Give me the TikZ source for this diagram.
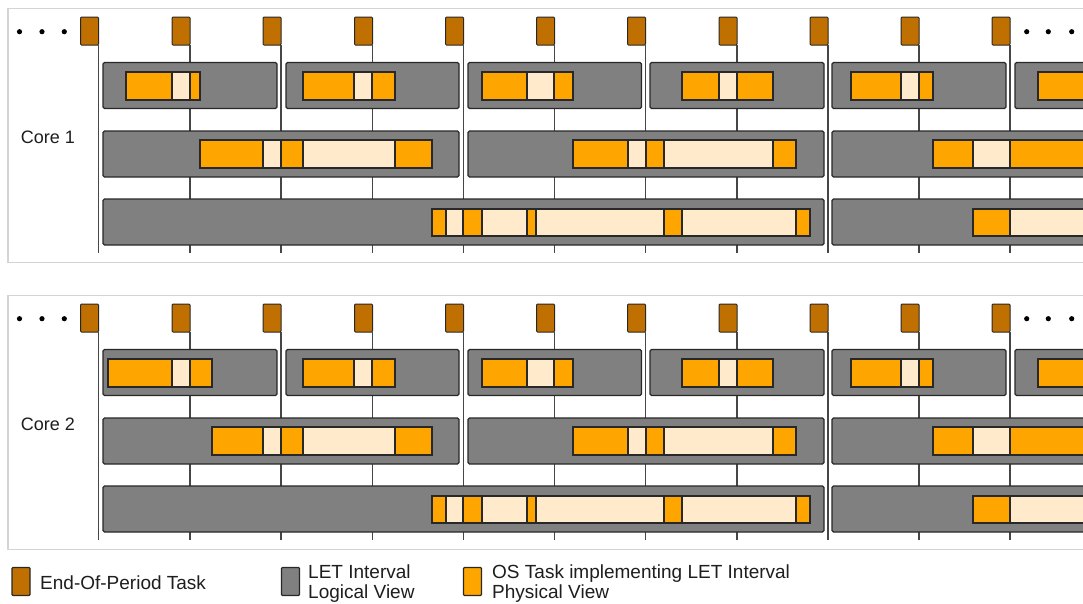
\documentclass[tikz,border=0pt]{standalone}
\usepackage{fontspec}
\setmainfont{Liberation Sans}
\definecolor{eopc}{RGB}{192,112,0}
\definecolor{letgray}{RGB}{128,128,128}
\definecolor{osorange}{RGB}{255,165,0}
\definecolor{oslight}{RGB}{255,234,204}
\definecolor{darkline}{RGB}{40,40,40}
\definecolor{tickc}{RGB}{70,70,70}
\definecolor{panelc}{RGB}{212,212,212}
\definecolor{txt}{RGB}{30,30,30}
\tikzset{
  eop/.style={draw=darkline, fill=eopc, line width=1pt, rounded corners=1pt, minimum width=18pt, minimum height=28pt, inner sep=0pt, outer sep=0pt},
  tickline/.style={draw=tickc, line width=1.4pt},
  letbox/.style={draw=darkline, fill=letgray, line width=1.3pt, rounded corners=1.5pt},
  seg/.style={draw=darkline, line width=1.1pt},
  panelframe/.style={draw=panelc, line width=1.6pt},
  corelabel/.style={text=txt, font=\fontsize{18}{21}\selectfont, inner sep=0pt},
  legsq/.style={draw=darkline, line width=1.2pt, rounded corners=1pt, minimum width=18pt, minimum height=28pt, inner sep=0pt},
  legtext/.style={text=txt, font=\fontsize{19}{21}\selectfont, inner sep=0pt},
  dot/.style={fill=black}
}
\newcommand{\Panel}[4]{%
  \draw[panelframe] (8,8.5) rectangle (1100,262.5);
  \foreach \x [count=\i] in {98.5,190,281,372.5,463.5,554.5,645.5,737,828,919,1010}{
    \node[eop, anchor=north east] (#1m\i) at (\x,17) {};
    \coordinate (#1b\i) at (\x,253);
    \draw[tickline] (#1m\i.south east) -- (#1b\i);
  }
  \foreach \x in {19.5,42,64.3,1026.7,1048.3,1071.7}{
    \fill[dot] (\x,31.7) circle (2.6pt);
  }
  % LET intervals, row 1
  \foreach \a/\b in {103/277,286/459,468/641.5,650/824,832/1006,1015/1100}{
    \draw[letbox] (\a,62.5) rectangle (\b,108.5);
  }
  % LET intervals, row 2
  \foreach \a/\b in {103/459,468/824,832/1100}{
    \draw[letbox] (\a,131) rectangle (\b,177);
  }
  % LET intervals, row 3
  \foreach \a/\b in {103/824,832/1100}{
    \draw[letbox] (\a,199) rectangle (\b,245);
  }
  % OS tasks, row 1
  \foreach \a/\b/\f in {#3,303/354/osorange,354/372/oslight,372/395/osorange,
      482/527/osorange,527/554/oslight,554/573/osorange,
      682/719/osorange,719/737/oslight,737/773/osorange,
      851/901/osorange,901/919/oslight,919/933/osorange,
      1038/1100/osorange}{
    \draw[seg, fill=\f] (\a,72) rectangle (\b,100);
  }
  % OS tasks, row 2
  \foreach \a/\b/\f in {#4,263/281/oslight,281/303/osorange,303/395/oslight,395/432/osorange,
      573/628/osorange,628/646/oslight,646/664/osorange,664/773/oslight,773/796/osorange,
      933/973/osorange,973/1010/oslight,1010/1100/osorange}{
    \draw[seg, fill=\f] (\a,140) rectangle (\b,168);
  }
  % OS tasks, row 3
  \foreach \a/\b/\f in {432/446/osorange,446/463/oslight,463/482/osorange,482/527/oslight,
      527/536/osorange,536/664/oslight,664/682/osorange,682/796/oslight,796/810/osorange,
      973/1010/osorange,1010/1100/oslight}{
    \draw[seg, fill=\f] (\a,209) rectangle (\b,236);
  }
  \node[corelabel] (#1lab) at (48,137) {#2};
}
\begin{document}
\begin{tikzpicture}[x=1pt,y=-1pt]
  \useasboundingbox (0,0) rectangle (1083,603);
  \clip (0,0) rectangle (1083,603);
  \fill[white] (0,0) rectangle (1083,603);
  \begin{scope}
    \Panel{pa}{Core 1}{126/172/osorange,172/190/oslight,190/200/osorange}{200/263/osorange}
  \end{scope}
  \begin{scope}[yshift=-287pt]
    \Panel{pb}{Core 2}{108/172/osorange,172/190/oslight,190/212/osorange}{212/263/osorange}
  \end{scope}
  % legend
  \node[legsq, fill=eopc] (lg1) at (21,581.5) {};
  \node[legtext, anchor=base west] (lt1) at (40,589) {End-Of-Period Task};
  \node[legsq, fill=letgray] (lg2) at (290.5,581.5) {};
  \node[legtext, anchor=base west] (lt2a) at (308,578) {LET Interval};
  \node[legtext, anchor=base west] (lt2b) at (308,598.5) {Logical View};
  \node[legsq, fill=osorange] (lg3) at (472.5,581.5) {};
  \node[legtext, anchor=base west] (lt3a) at (492,578) {OS Task implementing LET Interval};
  \node[legtext, anchor=base west] (lt3b) at (492,598.5) {Physical View};
\end{tikzpicture}
\end{document}
